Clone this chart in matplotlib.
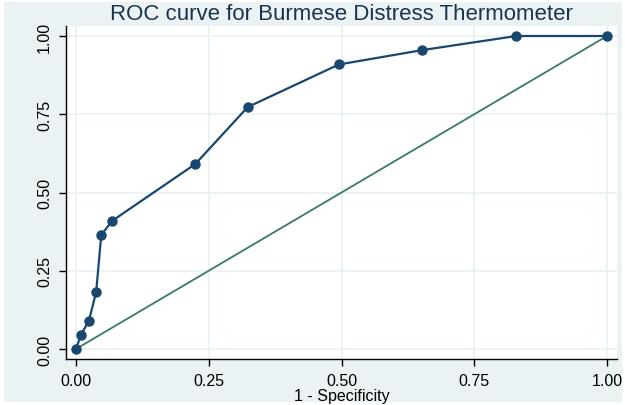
import matplotlib
matplotlib.use("Agg")
import matplotlib.pyplot as plt
from matplotlib.patches import Rectangle

# ROC points (1 - specificity, sensitivity)
fpr = [0.0, 0.0094, 0.0245, 0.038, 0.0476, 0.0678, 0.2247, 0.3234, 0.495, 0.652, 0.829, 1.0]
tpr = [0.0, 0.045, 0.091, 0.182, 0.364, 0.409, 0.591, 0.773, 0.909, 0.955, 1.0, 1.0]
ref_x = [0, 1]
ref_y = [0, 1]
ticks = [0, 0.25, 0.5, 0.75, 1.0]
tick_labels = ["0.00", "0.25", "0.50", "0.75", "1.00"]

bg = "#eaf2f3"
navy = "#1a476f"
green = "#3a7a63"

plt.rcParams['font.family'] = ['Liberation Sans', 'DejaVu Sans']

fig = plt.figure(figsize=(6.25, 4.06), dpi=100)
fig.patch.set_facecolor("white")
fig.patches.append(Rectangle((4/625, 3/406), 618/625, 400/406, transform=fig.transFigure,
                             facecolor=bg, edgecolor="none", zorder=-10))

ax = fig.add_axes([66/625, 46/406, 551/625, 333/406])
ax.set_facecolor("white")

ax.plot(ref_x, ref_y, color=green, lw=1.3, zorder=2)
ax.plot(fpr, tpr, color=navy, lw=1.6, marker="o", ms=6.5, zorder=3)

ax.set_xlim(-0.0188, 1.0188)
ax.set_ylim(-0.032, 1.032)
ax.set_xticks(ticks)
ax.set_xticklabels(tick_labels)
ax.set_yticks(ticks)
ax.set_yticklabels(tick_labels, rotation=90, va="center")
ax.grid(True, color=bg, lw=1.3)
ax.set_axisbelow(True)

for s in ["top", "right"]:
    ax.spines[s].set_visible(False)
for s in ["left", "bottom"]:
    ax.spines[s].set_linewidth(1.0)
    ax.spines[s].set_color("black")

ax.tick_params(direction="out", length=5, width=1.0, labelsize=11.5, colors="black", pad=5)
ax.set_xlabel("1 - Specificity", fontsize=11.5, labelpad=0)

fig.text(341.5/625, 1 - 14/406, "ROC curve for Burmese Distress Thermometer",
         ha="center", va="center", fontsize=16, color="#1c3350")

fig.savefig("out.png", dpi=100)
